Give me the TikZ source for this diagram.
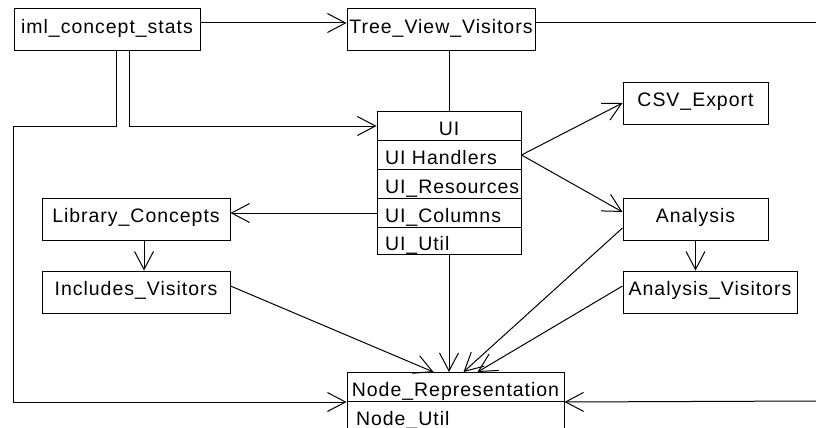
\documentclass[tikz,border=0pt]{standalone}
\usepackage{fontspec}
\setmainfont{Liberation Sans}[LetterSpace=5]
\usetikzlibrary{arrows.meta}

\begin{document}
\begin{tikzpicture}[x=1pt,y=-1pt,line width=1pt,
  font=\fontsize{19.5}{21}\selectfont,
  box/.style={draw,inner sep=0pt,minimum height=42pt,text height=13pt,text depth=6pt},
  row/.style={draw,inner ysep=0pt,inner xsep=1pt,minimum height=29pt,text height=19pt,text depth=0pt,anchor=north},
  lrow/.style={row,text width=128pt,inner xsep=8pt,align=left},
  dep/.style={-{Straight Barb[length=18pt,width=19pt]}}]
\useasboundingbox (0,0) rectangle (816,428);

\node[box,minimum width=186pt] (stats) at (107,30) {iml\_concept\_stats};
\node[box,minimum width=188pt] (tree) at (441,30) {Tree\_View\_Visitors};
\node[box,minimum width=145pt] (csv) at (695.5,103) {CSV\_Export};
\node[box,minimum width=145pt] (ana) at (695.5,219) {Analysis};
\node[box,minimum width=174pt] (anavis) at (710,292) {Analysis\_Visitors};
\node[box,minimum width=188pt] (lib) at (136,219) {Library\_Concepts};
\node[box,minimum width=188pt] (inc) at (136,292) {Includes\_Visitors};

% UI package
\node[row,minimum width=144pt] (ui) at (449,111) {UI};
\node[lrow] (uihandlers) at (449,140) {UI Handlers};
\node[lrow] (uires) at (449,169) {UI\_Resources};
\node[lrow] (uicols) at (449,198) {UI\_Columns};
\node[lrow,minimum height=27pt] (uiutil) at (449,227) {UI\_Util};

% Node package
\node[row,minimum width=217pt] (noderep) at (455.5,372) {Node\_Representation};
\node[lrow,text width=199pt,inner xsep=9pt] (nodeutil) at (455.5,401) {Node\_Util};

\coordinate (ltop) at (13,126);
\coordinate (rtop) at (816,23);
\coordinate (rbot) at (816,401);

\draw[dep] ([yshift=7pt]stats.east) -- ([yshift=7pt]tree.west);
\draw ([yshift=7pt]tree.east) -- (rtop);
\draw (tree.south -| ui.north) -- (ui.north);
\draw[dep] ([xshift=22pt]stats.south) |- (ui.west);
\draw[dep] ([xshift=9pt]stats.south) |- (ltop) |- (noderep.south west);
\draw[dep] (rbot) -- (noderep.south east);
\draw[dep] (uihandlers.east) -- (csv.west);
\draw[dep] (uihandlers.east) -- ([yshift=7pt]ana.west);
\draw[dep] (uicols.west) -- (uicols.west -| lib.east);
\draw[dep] ([xshift=8pt]lib.south) -- ([xshift=8pt]inc.north);
\draw[dep] (ana.south) -- (ana.south |- anavis.north);
\draw[dep] (uiutil.south) -- (uiutil.south |- noderep.north);
\draw[dep] ([yshift=6pt]inc.east) -- ([xshift=-22pt]noderep.north);
\draw[dep] ([yshift=-9pt]ana.west) -- ([xshift=8pt]noderep.north);
\draw[dep] ([yshift=6pt]anavis.west) -- ([xshift=22pt]noderep.north);
\end{tikzpicture}
\end{document}
